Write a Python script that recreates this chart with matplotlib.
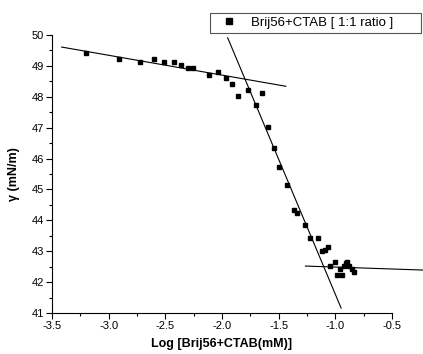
import numpy as np
import matplotlib
matplotlib.use("Agg")
import matplotlib.pyplot as plt
from matplotlib.ticker import MultipleLocator, FormatStrFormatter
from matplotlib.patches import Rectangle

plt.rcParams['font.family'] = ['Liberation Sans', 'DejaVu Sans']

# measured surface tension vs log concentration
log_conc = [-3.203, -2.906, -2.726, -2.603, -2.509, -2.426, -2.362, -2.302, -2.253,
            -2.112, -2.032, -1.967, -1.908, -1.858, -1.770, -1.702, -1.644, -1.591,
            -1.541, -1.497, -1.423, -1.364, -1.338, -1.264, -1.226, -1.155, -1.117,
            -1.091, -1.067, -1.044, -1.000, -0.985, -0.958, -0.938, -0.923, -0.908,
            -0.894, -0.879, -0.855, -0.837]
gamma = [49.43, 49.22, 49.12, 49.22, 49.12, 49.12, 49.02, 48.92, 48.92,
         48.72, 48.81, 48.61, 48.42, 48.02, 48.22, 47.73, 48.13, 47.02,
         46.33, 45.74, 45.14, 44.33, 44.23, 43.84, 43.43, 43.43, 43.02,
         43.04, 43.13, 42.53, 42.64, 42.24, 42.43, 42.24, 42.51, 42.62,
         42.64, 42.53, 42.43, 42.34]

# straight fit lines (end points)
fit1_x = [-3.415, -1.437]
fit1_y = [49.61, 48.34]
fit2_x = [-1.950, -0.949]
fit2_y = [49.91, 41.16]
fit3_x = [-1.264, -0.223]
fit3_y = [42.52, 42.39]

W, H = 423, 354
fig = plt.figure(figsize=(W/100, H/100), dpi=100)
ax = fig.add_axes([52/W, 1-313/H, 340/W, 278/H])

pts, = ax.plot(log_conc, gamma, 's', color='black', ms=3.4, label='Brij56+CTAB [ 1:1 ratio ]')
for fx, fy in [(fit1_x, fit1_y), (fit2_x, fit2_y), (fit3_x, fit3_y)]:
    ax.plot(fx, fy, '-', color='black', lw=0.8, clip_on=False)

ax.set_xlim(-3.5, -0.5)
ax.set_ylim(41, 50)
ax.xaxis.set_major_locator(MultipleLocator(0.5))
ax.xaxis.set_minor_locator(MultipleLocator(0.25))
ax.yaxis.set_major_locator(MultipleLocator(1))
ax.yaxis.set_minor_locator(MultipleLocator(0.5))
ax.xaxis.set_major_formatter(FormatStrFormatter('%.1f'))

for s in ['top', 'right']:
    ax.spines[s].set_visible(False)
for s in ['left', 'bottom']:
    ax.spines[s].set_linewidth(0.8)

ax.tick_params(which='major', direction='out', length=4, width=0.8, labelsize=8, pad=2)
ax.tick_params(which='minor', direction='out', length=2, width=0.8)

ax.set_xlabel('Log [Brij56+CTAB(mM)]', fontsize=9, fontweight='bold', labelpad=5)
ax.set_ylabel('γ (mN/m)', fontsize=9, fontweight='bold', labelpad=8)

# legend frame drawn as a box, legend itself without frame
box = Rectangle((210/W, 1-33/H), 211/W, 20/H, transform=fig.transFigure,
                facecolor='white', edgecolor='#555555', lw=0.8, zorder=3)
fig.patches.append(box)
leg = fig.legend(handles=[pts], loc='center left', bbox_to_anchor=(222.4/W, 1-23/H),
                 bbox_transform=fig.transFigure, fontsize=9.5, frameon=False,
                 borderaxespad=0, borderpad=0, handlelength=1.0, handletextpad=1.17,
                 markerscale=1.1)
leg.set_zorder(5)

fig.savefig('out.png', dpi=100)
